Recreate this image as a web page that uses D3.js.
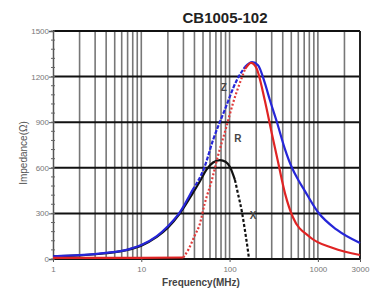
<!DOCTYPE html>
<html>
<head>
<meta charset="utf-8">
<script src="https://cdn.jsdelivr.net/npm/d3@7"></script>
<style>
  body { margin: 0; background: #fff; }
  text { font-family: "Liberation Sans", Arial, sans-serif; }
</style>
</head>
<body>
<div id="chart"></div>
<script>
// Impedance curves (frequency in MHz, impedance in ohm)
const zFreq = [1, 2, 4, 7, 10, 15, 20, 27, 38, 52, 65, 88, 121, 150, 180, 210, 250, 286, 344, 420, 509, 600, 700, 1000, 1650, 3000];
const zVal  = [18, 25, 40, 62, 92, 150, 215, 303, 454, 605, 783, 980, 1178, 1265, 1295, 1275, 1160, 1046, 900, 730, 600, 520, 455, 309, 191, 105];

const rFreq = [1, 10, 30, 34, 40, 46, 52, 63, 74, 90, 110, 131, 150, 175, 200, 250, 300, 350, 425, 520, 810, 1480, 3000];
const rVal  = [8, 8, 10, 60, 150, 230, 360, 520, 680, 850, 1030, 1160, 1250, 1290, 1260, 1046, 829, 651, 430, 276, 145, 72, 26];

const xFreq = [1, 2, 4, 7, 10, 15, 20, 27, 38, 46, 55, 65, 78, 90, 101, 115, 124, 138, 149, 161, 166];
const xVal  = [17, 24, 38, 60, 88, 145, 205, 295, 430, 510, 590, 635, 651, 640, 605, 520, 434, 309, 191, 59, 0];

const yTicks = [0, 300, 600, 900, 1200, 1500];
const xTicks = [1, 10, 100, 1000, 3000];
const xTickLabels = ["1", "10", "100", "1000", "3000"];

// curve name, frequency, impedance where the letter sits
const curveLabels = [["Z", 86, 1105], ["R", 124, 770], ["X", 184, 263]];

const width = 377, height = 291;
const margin = { left: 53, right: 360, top: 31, bottom: 259 };

const svg = d3.select("#chart").append("svg")
    .attr("width", width)
    .attr("height", height);

svg.append("rect").attr("width", width).attr("height", height).attr("fill", "#fff");

const x = d3.scaleLog().domain([1, 3000]).range([margin.left, margin.right]);
const y = d3.scaleLinear().domain([0, 1500]).range([margin.bottom, margin.top]);

// vertical log grid (2..9 of every decade)
const gridFreqs = [];
[1, 10, 100, 1000].forEach(d => {
    for (let m = 1; m <= 9; m++) {
        const f = m * d;
        if (f > 1 && f < 3000) gridFreqs.push(f);
    }
});
svg.append("g").selectAll("line")
    .data(gridFreqs)
    .enter().append("line")
    .attr("x1", d => x(d)).attr("x2", d => x(d))
    .attr("y1", margin.top).attr("y2", margin.bottom)
    .attr("stroke", "#555")
    .attr("stroke-opacity", 0.8)
    .attr("stroke-width", 1.6);

// horizontal grid
svg.append("g").selectAll("line")
    .data(yTicks.filter(d => d > 0))
    .enter().append("line")
    .attr("x1", margin.left).attr("x2", margin.right)
    .attr("y1", d => y(d)).attr("y2", d => y(d))
    .attr("stroke", "#111")
    .attr("stroke-width", 2);

// frame
svg.append("line").attr("x1", margin.left).attr("x2", margin.right)
    .attr("y1", margin.bottom).attr("y2", margin.bottom)
    .attr("stroke", "#111").attr("stroke-width", 2);
svg.append("line").attr("x1", margin.right).attr("x2", margin.right)
    .attr("y1", margin.top).attr("y2", margin.bottom)
    .attr("stroke", "#222").attr("stroke-width", 2);

// left axis with minor ticks
const yAxis = d3.axisLeft(y).tickValues(yTicks).tickSize(4).tickFormat(d3.format("d"));
const ga = svg.append("g").attr("transform", `translate(${margin.left},0)`).call(yAxis);
ga.select(".domain").attr("stroke", "#555").attr("stroke-width", 1.5);
ga.selectAll(".tick line").attr("stroke", "#555");
ga.selectAll(".tick text").attr("fill", "#777").attr("font-size", 8).attr("x", -4)
    .attr("font-family", "Liberation Sans, Arial, sans-serif");

svg.append("g").selectAll("line")
    .data(d3.range(0, 1501, 60))
    .enter().append("line")
    .attr("x1", margin.left - 2).attr("x2", margin.left + 2)
    .attr("y1", d => y(d)).attr("y2", d => y(d))
    .attr("stroke", "#666").attr("stroke-width", 1);

// bottom axis labels
const xAxis = d3.axisBottom(x).tickValues(xTicks).tickSize(3)
    .tickFormat((d, i) => xTickLabels[i]);
const gx = svg.append("g").attr("transform", `translate(0,${margin.bottom})`).call(xAxis);
gx.select(".domain").remove();
gx.selectAll(".tick line").attr("stroke", "#555");
gx.selectAll(".tick text").attr("fill", "#777").attr("font-size", 8).attr("y", 7)
    .attr("font-family", "Liberation Sans, Arial, sans-serif");

// curves
function seg(fs, vs, lo, hi, color, dash) {
    const pts = fs.map((f, i) => [f, vs[i]]).filter(p => p[0] >= lo && p[0] <= hi);
    const line = d3.line()
        .x(d => x(d[0]))
        .y(d => y(d[1]))
        .curve(d3.curveMonotoneX);
    svg.append("path")
        .datum(pts)
        .attr("d", line)
        .attr("fill", "none")
        .attr("stroke", color)
        .attr("stroke-width", 2.2)
        .attr("stroke-dasharray", dash || null);
}

// X (reactance)
seg(xFreq, xVal, 1, 115, "#111");
seg(xFreq, xVal, 115, 166, "#111", "3,2");

// Z
seg(zFreq, zVal, 1, 38, "#2626d8");
seg(zFreq, zVal, 38, 150, "#2626d8", "4,1.5");
seg(zFreq, zVal, 150, 3000, "#2626d8");

// R
seg(rFreq, rVal, 1, 30, "#e02424");
seg(rFreq, rVal, 30, 150, "#e03a3a", "2,2");
seg(rFreq, rVal, 150, 3000, "#e02424");

// curve labels
svg.append("g").selectAll("text")
    .data(curveLabels)
    .enter().append("text")
    .attr("x", d => x(d[1]))
    .attr("y", d => y(d[2]))
    .attr("text-anchor", "middle")
    .attr("font-size", 10)
    .attr("font-weight", "bold")
    .attr("fill", "#444")
    .text(d => d[0]);

// title and axis titles
svg.append("text")
    .attr("x", 225).attr("y", 23)
    .attr("text-anchor", "middle")
    .attr("font-family", "DejaVu Sans, sans-serif")
    .attr("font-weight", "bold")
    .attr("font-size", 15)
    .attr("fill", "#222")
    .text("CB1005-102");

svg.append("text")
    .attr("transform", "translate(27,153) rotate(-90)")
    .attr("text-anchor", "middle")
    .attr("font-size", 10)
    .attr("fill", "#555")
    .text("Impedance(Ω)");

svg.append("text")
    .attr("x", 201).attr("y", 286)
    .attr("text-anchor", "middle")
    .attr("font-size", 10)
    .attr("font-weight", "bold")
    .attr("fill", "#444")
    .text("Frequency(MHz)");
</script>
</body>
</html>
